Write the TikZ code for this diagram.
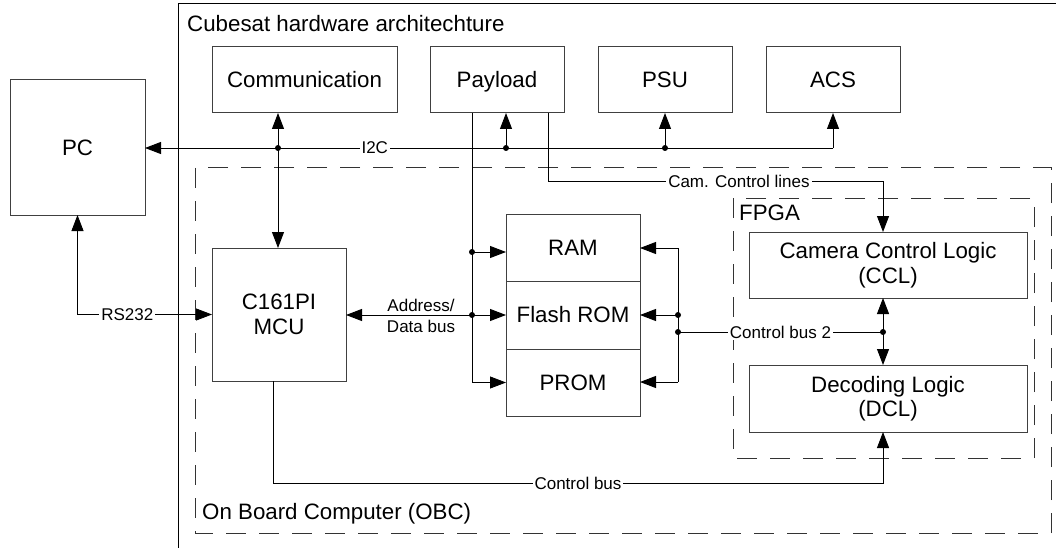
\documentclass[tikz,border=0pt]{standalone}
\usepackage{fontspec}
\setmainfont{Liberation Sans}
\usetikzlibrary{arrows.meta,calc}
\begin{document}
\begin{tikzpicture}[x=1pt,y=-1pt,
  box/.style={draw=black!75,line width=1pt,inner sep=0pt,outer sep=0pt,anchor=north west,align=center,font=\fontsize{22.3}{24.5}\selectfont},
  lbl/.style={fill=white,inner sep=2pt,font=\fontsize{17}{20}\selectfont},
  conn/.style={line width=0.9pt,black},
  arr/.style={conn,-{Triangle[length=16pt,width=12pt]}},
  both/.style={conn,{Triangle[length=16pt,width=12pt]}-{Triangle[length=16pt,width=12pt]}},
  dashbox/.style={draw=black!80,line width=1pt,dash pattern=on 20pt off 13pt},
  dot/.style={fill=black}]
\fill[white] (0,0) rectangle (1056,548);
\useasboundingbox (0,0) rectangle (1056,548);
% outer frame
\draw[line width=1pt] (178,548) -- (178,4) -- (1060,4);
\node[anchor=west,font=\fontsize{22.3}{25}\selectfont,inner sep=0pt] (tcube) at (187,24) {Cubesat hardware architechture};
% OBC frame
\draw[dashbox] (195,168) rectangle (1051,533);
\node[anchor=west,font=\fontsize{22.3}{25}\selectfont,inner sep=0pt] (tobc) at (202,514) {On Board Computer (OBC)};
% FPGA frame
\draw[dashbox] (733,198) rectangle (1034,458);
\node[anchor=west,font=\fontsize{22.3}{25}\selectfont,inner sep=0pt] (tfpga) at (739,213) {FPGA};
% boxes
\node[box,minimum width=135pt,minimum height=135pt] (pc) at (10,80) {PC};
\node[box,minimum width=185pt,minimum height=66pt] (comm) at (212,47) {Communication};
\node[box,minimum width=134pt,minimum height=66pt] (payload) at (430,47) {Pa\smash{y}load};
\node[box,minimum width=134pt,minimum height=66pt] (psu) at (598,47) {PSU};
\node[box,minimum width=134pt,minimum height=66pt] (acs) at (766,47) {ACS};
\node[box,minimum width=134pt,minimum height=133pt] (mcu) at (212,248) {C161PI\\MCU};
\node[box,minimum width=134pt,minimum height=67pt] (ram) at (506,214) {RAM};
\node[box,minimum width=134pt,minimum height=68pt] (flash) at (506,281) {Flash ROM};
\node[box,minimum width=134pt,minimum height=67pt] (prom) at (506,349) {PROM};
\node[box,minimum width=278pt,minimum height=66pt] (ccl) at (749,232) {Camera Control Logic\\(CCL)};
\node[box,minimum width=278pt,minimum height=67pt] (dcl) at (749,365) {Decoding Logic\\(DCL)};
% coordinates
\coordinate (ja) at (833,148);
\coordinate (jp) at (665,148);
\coordinate (jl) at (506,148);
\coordinate (jc) at (278,148);
\coordinate (cx) at (548,181);
\coordinate (fx) at (883,181);
\coordinate (pd) at (472,315);
\coordinate (rb) at (678,315);
\coordinate (cb) at (678,332);
\coordinate (cf) at (883,332);
\coordinate (mb) at (273,483);
% I2C bus
\draw[arr] (ja) -- (acs.south);
\draw[arr] (ja) -- node[lbl,pos=0.666]{I2C} (pc.east |- ja);
\draw[arr] (jp) -- (jp |- psu.south);
\draw[arr] (jl) -- (jl |- payload.south);
\draw[both] (jc |- comm.south) -- (jc |- mcu.north);
\fill[dot] (jp) circle (3pt) (jl) circle (3pt) (jc) circle (3pt);
% camera control lines
\draw[arr] (cx |- payload.south) -- (cx) -- node[lbl,pos=0.57]{Cam. Control lines} (fx) -- (fx |- ccl.north);
% RS232
\draw[both] (mcu.west) -- node[lbl,pos=0.63]{RS232} (pc.south |- mcu.west) -- (pc.south);
% payload data line
\draw[arr] (pd |- payload.south) -- (pd |- prom.west) -- (prom.west);
\draw[arr] (472,252) -- (506,252);
\draw[both] (mcu.east |- pd) -- (flash.west |- pd);
\node[font=\fontsize{17}{21}\selectfont,align=center,inner sep=0pt] (addr) at (421,316) {Address/\\Data bus};
\fill[dot] (472,252) circle (3pt) (pd) circle (3pt);
% right bus
\draw[conn] (678,248) -- (678,382);
\draw[arr] (678,248) -- (640,248);
\draw[arr] (rb) -- (flash.east |- rb);
\draw[arr] (678,382) -- (640,382);
\fill[dot] (rb) circle (3pt) (cb) circle (3pt) (cf) circle (3pt);
\draw[conn] (cb) -- node[lbl]{Control bus 2} (cf);
\draw[both] (fx |- ccl.south) -- (fx |- dcl.north);
% control bus
\draw[arr] (mb |- mcu.south) -- (mb) -- node[lbl]{Control bus} (fx |- mb) -- (fx |- dcl.south);
\end{tikzpicture}
\end{document}
